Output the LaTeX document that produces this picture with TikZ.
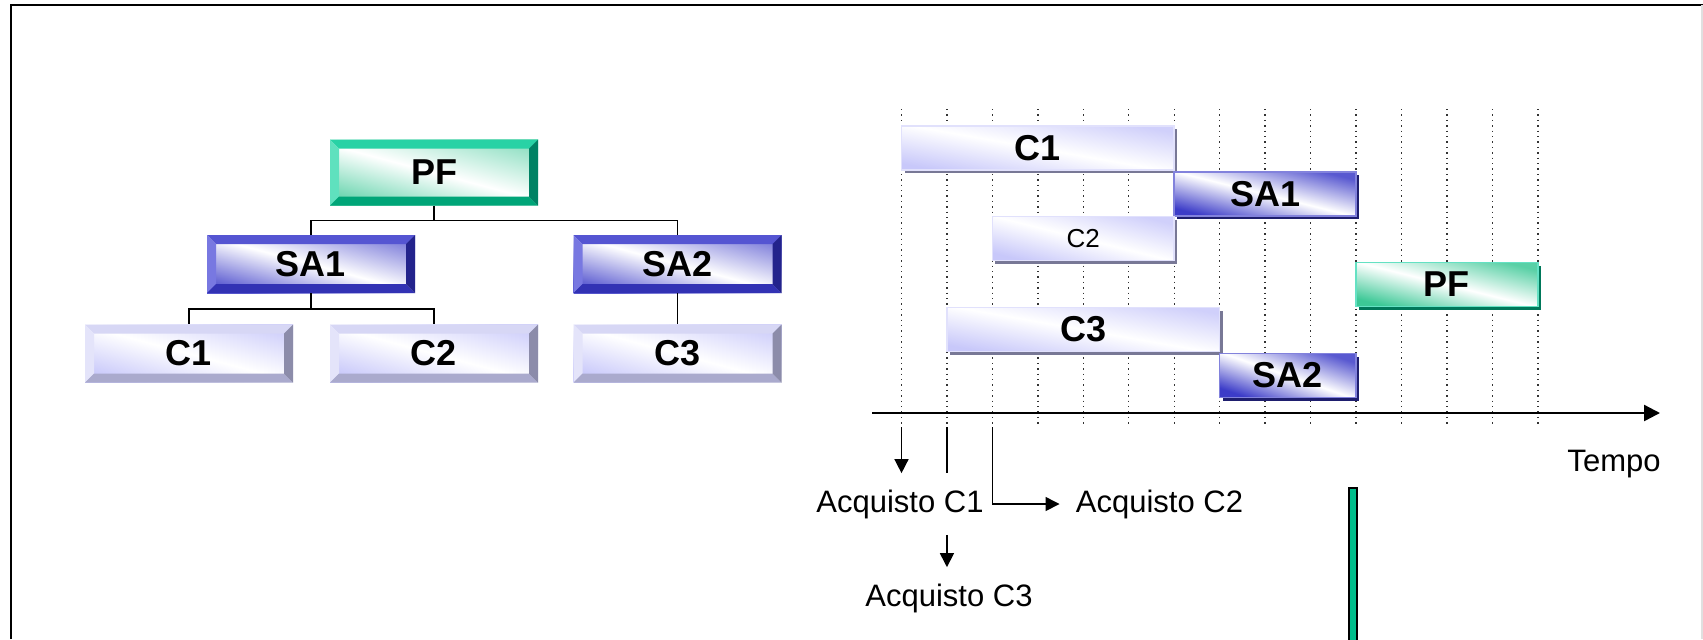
\documentclass[tikz,border=0pt]{standalone}
\usepackage{fontspec}
\setmainfont{Liberation Sans}
\usetikzlibrary{arrows.meta}
\usetikzlibrary{shadows}
\usetikzlibrary{calc}

% colours of the boxes
\definecolor{pftop}{RGB}{40,210,165}
\definecolor{pfleft}{RGB}{95,225,190}
\definecolor{pfbot}{RGB}{0,165,120}
\definecolor{pfright}{RGB}{0,130,100}
\definecolor{pfface}{RGB}{60,200,150}
\definecolor{pflight}{RGB}{100,225,195}
\definecolor{pfshadow}{RGB}{0,120,90}
\definecolor{satop}{RGB}{85,85,210}
\definecolor{saleft}{RGB}{120,120,225}
\definecolor{sabot}{RGB}{50,50,180}
\definecolor{saright}{RGB}{35,35,140}
\definecolor{saface}{RGB}{60,60,200}
\definecolor{salight}{RGB}{130,130,220}
\definecolor{sashadow}{RGB}{30,30,110}
\definecolor{ctop}{RGB}{215,215,245}
\definecolor{cleft}{RGB}{228,228,250}
\definecolor{cbot}{RGB}{170,170,205}
\definecolor{cright}{RGB}{140,140,170}
\definecolor{cface}{RGB}{200,200,250}
\definecolor{clight}{RGB}{225,225,252}
\definecolor{cshadow}{RGB}{120,120,150}
\definecolor{pfbar}{RGB}{0,190,140}

\newcommand\bw{4.5pt}
\newcommand\bevelframe[4]{%
  \fill[#1] (path picture bounding box.north west) -- (path picture bounding box.north east)
    -- ([shift={(-\bw,-\bw)}]path picture bounding box.north east) -- ([shift={(\bw,-\bw)}]path picture bounding box.north west) -- cycle;
  \fill[#2] (path picture bounding box.north west) -- ([shift={(\bw,-\bw)}]path picture bounding box.north west)
    -- ([shift={(\bw,\bw)}]path picture bounding box.south west) -- (path picture bounding box.south west) -- cycle;
  \fill[#3] (path picture bounding box.south west) -- ([shift={(\bw,\bw)}]path picture bounding box.south west)
    -- ([shift={(-\bw,\bw)}]path picture bounding box.south east) -- (path picture bounding box.south east) -- cycle;
  \fill[#4] (path picture bounding box.south east) -- ([shift={(-\bw,\bw)}]path picture bounding box.south east)
    -- ([shift={(-\bw,-\bw)}]path picture bounding box.north east) -- (path picture bounding box.north east) -- cycle;
}

\tikzset{
  treebox/.style={rectangle, minimum width=104pt, minimum height=29pt, inner sep=0pt,
    font=\bfseries\fontsize{18}{20}\selectfont},
  pfbox/.style={treebox, minimum height=33pt, left color=pfface!75, right color=pfface!55,
    middle color=white, shading angle=165, path picture={\bevelframe{pftop}{pfleft}{pfbot}{pfright}}},
  sabox/.style={treebox, left color=saface!85, right color=saface!65,
    middle color=white, shading angle=165, path picture={\bevelframe{satop}{saleft}{sabot}{saright}}},
  cbox/.style={treebox, left color=cface, right color=cface!85,
    middle color=white, shading angle=165, path picture={\bevelframe{ctop}{cleft}{cbot}{cright}}},
  gbar/.style={rectangle, minimum height=22pt, inner sep=0pt, line width=0.8pt,
    font=\bfseries\fontsize{18}{20}\selectfont},
  cbar/.style={gbar, draw=clight, left color=cface, right color=cface!85, middle color=white,
    shading angle=166, drop shadow={shadow xshift=1.5pt, shadow yshift=-1.5pt, fill=cshadow, opacity=1}},
  sabar/.style={gbar, draw=salight, left color=saface, right color=saface!85, middle color=white,
    shading angle=166, drop shadow={shadow xshift=1.5pt, shadow yshift=-1.5pt, fill=sashadow, opacity=1}},
  pfbar/.style={gbar, draw=pflight, left color=pfface, right color=pfface!85, middle color=white,
    shading angle=166, drop shadow={shadow xshift=1.5pt, shadow yshift=-1.5pt, fill=pfshadow, opacity=1}},
  tline/.style={dotted, line width=0.7pt, black!80},
  lbl/.style={inner sep=8pt, font=\fontsize{15.5}{18}\selectfont},
}

\begin{document}
\begin{tikzpicture}[x=0.5pt, y=-0.5pt]
  \useasboundingbox (0,0) rectangle (1703,639);

  % Frame
  \draw[line width=1pt] (10.5,639) -- (10.5,4.5) -- (1703,4.5);
  \draw[black!12, line width=1pt] (1702,4.5) -- (1702,639);

  % Define tree nodes
  \node[pfbox] (PF) at (434,172.5) {PF};
  \node[sabox] (SA1) at (311,264) {SA1};
  \node[sabox] (SA2) at (677.5,264) {SA2};
  \node[cbox] (C1) at (189,353.5) {C1};
  \node[cbox] (C2) at (434,353.5) {C2};
  \node[cbox] (C3) at (677.5,353.5) {C3};

  % Connect the tree nodes
  \coordinate (pfbus) at ($(PF.south)!.5!(PF.south |- SA1.north)$);
  \coordinate (sabus) at ($(SA1.south)!.5!(SA1.south |- C1.north)$);
  \draw[line width=0.75pt] (PF.south) -- (pfbus) -| (SA1.north);
  \draw[line width=0.75pt] (pfbus) -| (SA2.north);
  \draw[line width=0.75pt] (SA1.south) -- (sabus) -| (C1.north);
  \draw[line width=0.75pt] (sabus) -| (C2.north);
  \draw[line width=0.75pt] (SA2.south) -- (C3.north);

  % Time grid
  \foreach \i in {0,...,14}
    \draw[tline] (901.5+45.45*\i,109) -- (901.5+45.45*\i,427) coordinate (t\i);

  % Bars
  \node[cbar, minimum width=136.35pt, shading angle=170] (barC1) at (1037.85,148) {C1};
  \node[sabar, minimum width=90.9pt] (barSA1) at (1265.1,194) {SA1};
  \node[cbar, minimum width=90.9pt, font=\fontsize{13}{15}\selectfont] (barC2) at (1083.3,238.5) {C2};
  \node[pfbar, minimum width=90.9pt] (barPF) at (1446.9,284.5) {PF};
  \node[cbar, minimum width=136.35pt, shading angle=170] (barC3) at (1083.3,329.5) {C3};
  \node[sabar, minimum width=68.2pt, shading angle=161] (barSA2) at (1287.8,375.5) {SA2};

  % Time axis
  \coordinate (ax0) at (872,413);
  \coordinate (ax1) at (1660,413);
  \draw[-{Triangle[length=8pt,width=8pt]}, line width=1.2pt] (ax0) -- (ax1);
  \node[lbl] (tempo) at (1614,464) {Tempo};

  % Purchases
  \node[lbl] (acqC1) at (900,504) {Acquisto C1};
  \node[lbl] (acqC2) at (1159.5,504) {Acquisto C2};
  \node[lbl] (acqC3) at (949,598) {Acquisto C3};
  \draw[-{Triangle[length=7pt,width=7pt]}, line width=0.75pt] (t0) -- (t0 |- acqC1.north);
  \draw[line width=0.75pt] (t1) -- (t1 |- acqC1.north);
  \draw[-{Triangle[length=7pt,width=7pt]}, line width=0.75pt] (t2) |- (acqC2.west);
  \draw[-{Triangle[length=7pt,width=7pt]}, line width=0.75pt] (t1 |- acqC1.south) -- (t1 |- acqC3.north);

  % Marker
  \draw[fill=pfbar, line width=0.8pt] (1349,488) rectangle (1357,645);

\end{tikzpicture}
\end{document}
